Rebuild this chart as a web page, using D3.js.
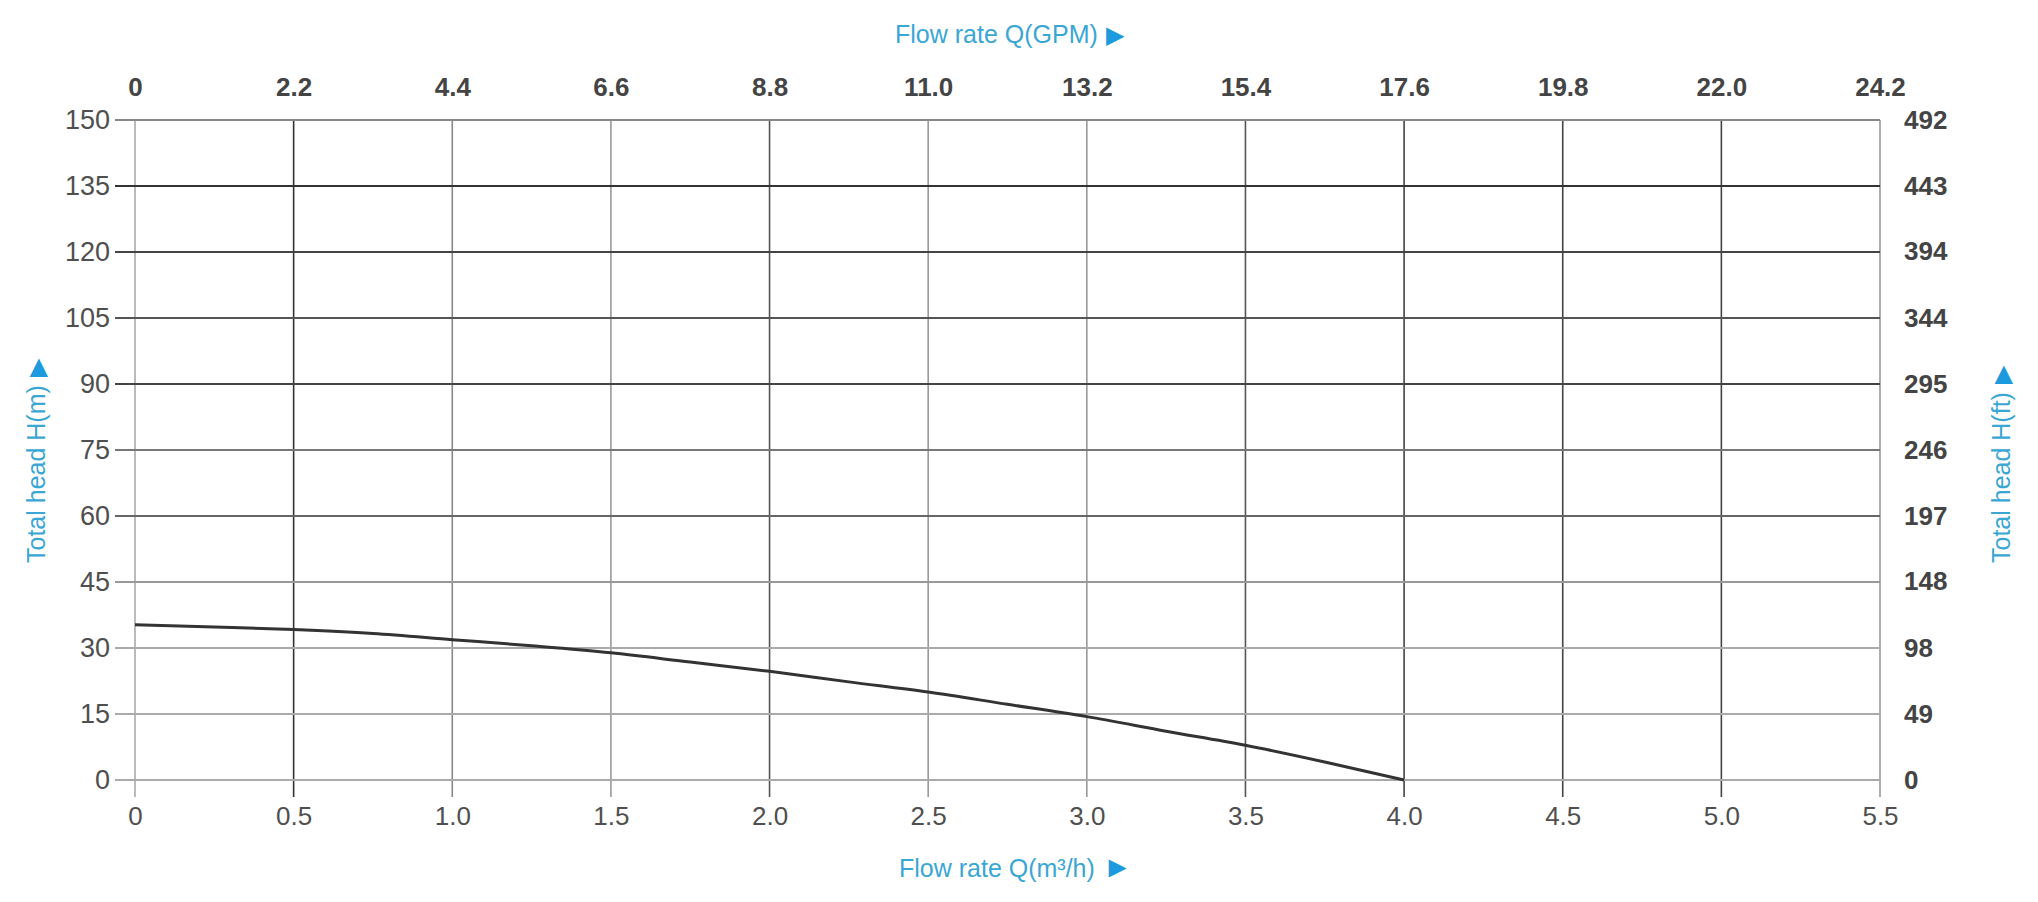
<!DOCTYPE html>
<html>
<head>
<meta charset="utf-8">
<script src="https://cdn.jsdelivr.net/npm/d3@7"></script>
<style>
  body { margin: 0; background: #fff; }
  text { font-family: "Liberation Sans", Arial, sans-serif; }
  .lab { fill: #4f4f4f; font-size: 26px; }
  .bold { font-weight: bold; fill: #444; }
  .title { fill: #3aa6d4; font-size: 25px; }
  .arrow { fill: #1d9ade; }
</style>
</head>
<body>
<div id="chart"></div>
<script>
// pump curve, flow in m3/h vs head in m
const flowM3 = [0, 0.25, 0.5, 0.75, 1.0, 1.25, 1.5, 1.75, 2.0, 2.25, 2.5, 2.75, 3.0, 3.25, 3.5, 3.75, 4.0];
const headM = [35.3, 34.8, 34.2, 33.3, 31.9, 30.5, 28.9, 26.8, 24.7, 22.3, 20.0, 17.2, 14.4, 11.1, 7.9, 4.1, 0];

const m3Ticks = [0, 0.5, 1.0, 1.5, 2.0, 2.5, 3.0, 3.5, 4.0, 4.5, 5.0, 5.5];
const gpmTicks = [0, 2.2, 4.4, 6.6, 8.8, 11.0, 13.2, 15.4, 17.6, 19.8, 22.0, 24.2];
const headTicks = [0, 15, 30, 45, 60, 75, 90, 105, 120, 135, 150];
const feetTicks = [0, 49, 98, 148, 197, 246, 295, 344, 394, 443, 492];

// scanned grid has uneven line darkness
const vShade = ['#aaa', '#333', '#888', '#999', '#555', '#999', '#999', '#555', '#444', '#444', '#444', '#999'];
const hShade = ['#aaa', '#aaa', '#aaa', '#999', '#666', '#777', '#444', '#555', '#444', '#333', '#888'];

const width = 2038, height = 902;
const plotL = 135, plotR = 1880, plotT = 120, plotB = 780;

const svg = d3.select('#chart').append('svg')
  .attr('width', width)
  .attr('height', height);

const x = d3.scaleLinear().domain([0, 5.5]).range([plotL, plotR]);
const xGpm = d3.scaleLinear().domain([0, 24.2]).range([plotL, plotR]);
const y = d3.scaleLinear().domain([0, 150]).range([plotB, plotT]);
const yFt = d3.scaleLinear().domain([0, 492]).range([plotB, plotT]);

// grid
svg.append('g').selectAll('line')
  .data(m3Ticks)
  .enter().append('line')
  .attr('x1', d => x(d)).attr('x2', d => x(d))
  .attr('y1', plotT).attr('y2', plotB + 17)
  .attr('stroke', (d, i) => vShade[i])
  .attr('stroke-width', 1.6);

svg.append('g').selectAll('line')
  .data(headTicks)
  .enter().append('line')
  .attr('x1', plotL - 20).attr('x2', plotR)
  .attr('y1', d => y(d)).attr('y2', d => y(d))
  .attr('stroke', (d, i) => hShade[i])
  .attr('stroke-width', 2.2);

// axes (labels only, grid drawn above)
const fmt1 = d => d === 0 ? '0' : d3.format('.1f')(d);

const axLeft = svg.append('g')
  .attr('transform', `translate(${plotL},0)`)
  .call(d3.axisLeft(y).tickValues(headTicks).tickSize(0).tickPadding(25));
axLeft.selectAll('text').attr('class', 'lab').style('font-size', '27px');

const axBottom = svg.append('g')
  .attr('transform', `translate(0,${plotB})`)
  .call(d3.axisBottom(x).tickValues(m3Ticks).tickFormat(fmt1).tickSize(0).tickPadding(27));
axBottom.selectAll('text').attr('class', 'lab');

const axTop = svg.append('g')
  .attr('transform', `translate(0,${plotT})`)
  .call(d3.axisTop(xGpm).tickValues(gpmTicks).tickFormat(fmt1).tickSize(0).tickPadding(24));
axTop.selectAll('text').attr('class', 'lab bold');

const axRight = svg.append('g')
  .attr('transform', `translate(${plotR},0)`)
  .call(d3.axisRight(yFt).tickValues(feetTicks).tickSize(0).tickPadding(24));
axRight.selectAll('text').attr('class', 'lab bold');

svg.selectAll('.domain').remove();
svg.selectAll('.tick line').remove();
svg.selectAll('.tick text').attr('font-family', null).attr('font-size', null).attr('fill', null);

// curve
const line = d3.line()
  .x((d, i) => x(flowM3[i]))
  .y(d => y(d))
  .curve(d3.curveMonotoneX);

svg.append('path')
  .datum(headM)
  .attr('d', line)
  .attr('fill', 'none')
  .attr('stroke', '#333')
  .attr('stroke-width', 3);

// titles
const addTitle = (label, arrow, size, attrs) => {
  const t = svg.append('text').attr('class', 'title');
  Object.entries(attrs).forEach(([k, v]) => t.attr(k, v));
  t.append('tspan').text(label);
  t.append('tspan').attr('class', 'arrow').attr('dx', 8).style('font-size', size).text(arrow);
};

addTitle('Flow rate Q(GPM)', '\u25B6', '24px', {x: 895, y: 43});
addTitle('Flow rate Q(m\u00B3/h)', '\u25BA', '30px', {x: 899, y: 877});
addTitle('Total head H(m)', '\u25B6', '24px', {transform: 'translate(45,563) rotate(-90)'});
addTitle('Total head H(ft)', '\u25B6', '24px', {transform: 'translate(2010,563) rotate(-90)'});
</script>
</body>
</html>
